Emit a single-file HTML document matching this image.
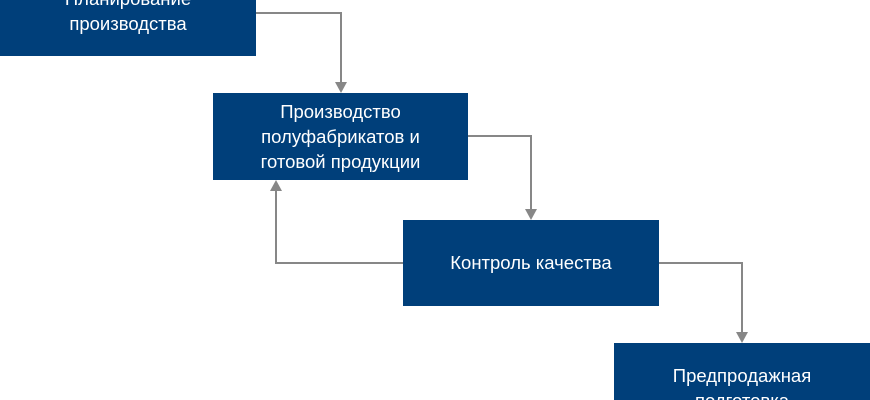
<!DOCTYPE html>
<html><head><meta charset="utf-8"><style>
html,body{margin:0;padding:0;background:#fff;width:870px;height:400px;overflow:hidden;position:relative}
.b{position:absolute;background:#003f7a;color:#fff;font-family:"Liberation Sans",sans-serif;font-size:18.5px;line-height:25px;text-align:center}
.b div{position:absolute;left:0;right:0}
svg{position:absolute;left:0;top:0}
</style></head><body>
<svg width="870" height="400">
<g stroke="#878787" stroke-width="2" fill="none">
<polyline points="256,13 341,13 341,84"/>
<polyline points="468,136 531,136 531,211"/>
<polyline points="403,263 276,263 276,189"/>
<polyline points="659,263 742,263 742,334"/>
</g>
<g fill="#878787">
<polygon points="335,82 347,82 341,93"/>
<polygon points="525,209 537,209 531,220"/>
<polygon points="270,191 282,191 276,180"/>
<polygon points="736,332 748,332 742,343"/>
</g>
</svg>
<div class="b" style="left:0;top:0;width:256px;height:56px"><div style="top:-14px">Планирование<br>производства</div></div>
<div class="b" style="left:213px;top:93px;width:255px;height:87px"><div style="top:6px">Производство<br>полуфабрикатов и<br>готовой продукции</div></div>
<div class="b" style="left:403px;top:220px;width:256px;height:86px"><div style="top:30px">Контроль качества</div></div>
<div class="b" style="left:614px;top:343px;width:256px;height:57px"><div style="top:20px">Предпродажная<br>подготовка</div></div>
</body></html>
